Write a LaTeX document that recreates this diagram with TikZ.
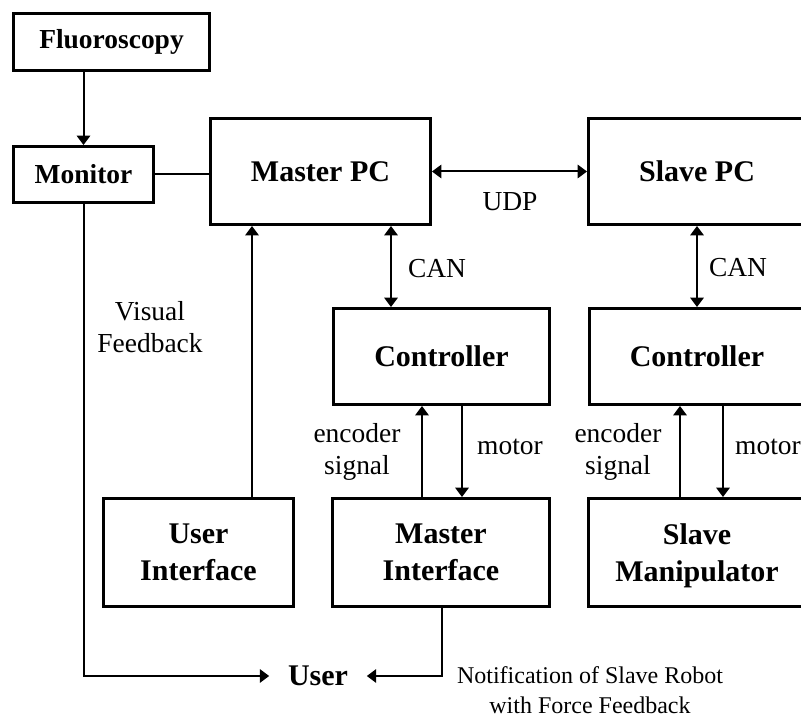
\documentclass[tikz,border=0pt]{standalone}
\usepackage{fontspec}
\setmainfont{Liberation Serif}
\usetikzlibrary{arrows.meta,positioning}

\begin{document}
\begin{tikzpicture}[x=0.75pt,y=-0.75pt,>={Triangle[length=7pt,width=10pt]},line width=1.5pt,
  box/.style={draw,line width=2.25pt,inner sep=0pt,align=center,font=\bfseries\fontsize{22.5}{28}\selectfont},
  smallbox/.style={box,font=\bfseries\fontsize{20.6}{25}\selectfont},
  lbl/.style={align=center,inner sep=0pt,font=\fontsize{20.6}{24}\selectfont}]
\useasboundingbox (0,0) rectangle (801,717);
\node[smallbox,minimum width=147pt,minimum height=42.75pt](fluoro) at (111.5,42){Fluoroscopy};
\node[smallbox,minimum width=105pt,minimum height=42pt](monitor) at (83.5,174.5){Monitor};
\node[box,minimum width=165pt,minimum height=79.5pt](masterpc) at (320.5,171.5){Master PC};
\node[box,minimum width=162.75pt,minimum height=79.5pt](slavepc) at (697,171.5){Slave PC};
\node[box,minimum width=162pt,minimum height=72pt](ctrlL) at (441.5,356.5){Controller};
\node[box,minimum width=162pt,minimum height=72pt](ctrlR) at (697,356.5){Controller};
\node[box,minimum width=142.5pt,minimum height=81pt](ui) at (198.5,552.5){User\\Interface};
\node[box,minimum width=162.75pt,minimum height=81pt](mi) at (441,552.5){Master\\Interface};
\node[box,minimum width=162.75pt,minimum height=81pt,text depth=0pt](sm) at (697,552.5){Slave\\Manipulator};
\node[box,draw=none,inner xsep=13pt](user) at (318,676){User};
% labels
\node[lbl](udp) at (510,202){UDP};
\node[lbl](canL) at (437,269){CAN};
\node[lbl](canR) at (738,268){CAN};
\node[lbl](visual) at (150,327){Visual\\Feedback};
\node[lbl](encL) at (357,452){encoder\\signal};
\node[lbl](motL) at (510,447){motor};
\node[lbl](encR) at (618,452){encoder\\signal};
\node[lbl](motR) at (768,447){motor};
\node[lbl,font=\fontsize{18}{22}\selectfont](notif) at (590,690){Notification of Slave Robot\\with Force Feedback};
% connectors
\draw[->](monitor.north|-fluoro.south)--(monitor.north);
\draw(monitor.east)--(monitor.east-|masterpc.west);
\draw[<->](masterpc.east)--(slavepc.west);
\draw[<->](391,0|-masterpc.south)--(391,0|-ctrlL.north);
\draw[<->](slavepc.south)--(ctrlR.north);
\draw[->](422,0|-mi.north)--(422,0|-ctrlL.south);\draw[->](462,0|-ctrlL.south)--(462,0|-mi.north);
\draw[->](680,0|-sm.north)--(680,0|-ctrlR.south);\draw[->](723,0|-ctrlR.south)--(723,0|-sm.north);
\draw[->](252,0|-ui.north)--(252,0|-masterpc.south);
\draw[->](monitor.south)|-(user.west);
\draw[->](442,0|-mi.south)|-(user.east);
\end{tikzpicture}
\end{document}
